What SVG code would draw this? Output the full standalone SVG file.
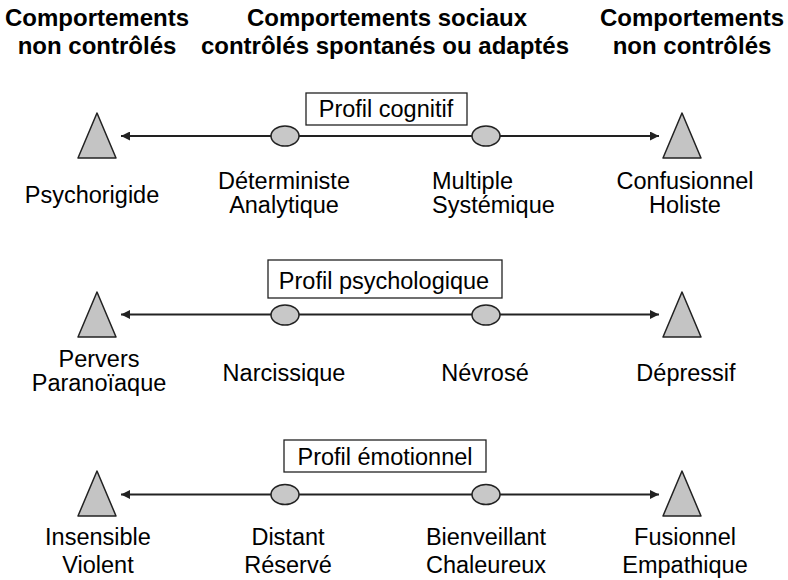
<svg xmlns="http://www.w3.org/2000/svg" width="788" height="580" viewBox="0 0 788 580">
<defs>
<style>
text{font-family:"Liberation Sans",Arial,sans-serif;fill:#000;text-anchor:middle}
.h{font-size:24px;font-weight:bold}
.t{font-size:23.5px}
.tri{fill:#c4c4c4;stroke:#222;stroke-width:1.5;stroke-linejoin:round}
.ell{fill:#c8c8c8;stroke:#222;stroke-width:1.5}
.ln{stroke:#222;stroke-width:2;fill:none;marker-start:url(#a);marker-end:url(#a)}
.box{fill:#fff;stroke:#222;stroke-width:1.3}
</style>
<marker id="a" viewBox="0 0 10 10" refX="10" refY="5" markerWidth="4.5" markerHeight="4.5" orient="auto-start-reverse" markerUnits="strokeWidth">
<path d="M0,0 L10,5 L0,10 z" fill="#222"/>
</marker>
</defs>
<rect width="788" height="580" fill="#fff"/>

<g id="headers">
<text class="h" x="97" y="26">Comportements</text>
<text class="h" x="97" y="54">non contrôlés</text>
<text class="h" x="387" y="26">Comportements sociaux</text>
<text class="h" x="385" y="54">contrôlés spontanés ou adaptés</text>
<text class="h" x="692" y="26">Comportements</text>
<text class="h" x="692" y="54">non contrôlés</text>
</g>

<g id="connectors">
<line class="ln" x1="121" y1="136" x2="659" y2="136"/>
<line class="ln" x1="121" y1="314.5" x2="659" y2="314.5"/>
<line class="ln" x1="121" y1="494.5" x2="659" y2="494.5"/>
</g>

<!-- Row 1 -->
<g id="box-cognitif"><rect class="box" x="306" y="93" width="161" height="32"/><text class="t" x="386" y="117">Profil cognitif</text></g>
<g id="psychorigide"><polygon class="tri" points="97,113 78,158 116,158"/><text class="t" x="92" y="203">Psychorigide</text></g>
<g id="deterministe"><ellipse class="ell" cx="285" cy="136" rx="14" ry="10"/><text class="t" x="284" y="189">Déterministe</text><text class="t" x="284" y="213">Analytique</text></g>
<g id="multiple"><ellipse class="ell" cx="486" cy="136" rx="14" ry="10"/><text class="t" x="432" y="189" style="text-anchor:start">Multiple</text><text class="t" x="432" y="213" style="text-anchor:start">Systémique</text></g>
<g id="confusionnel"><polygon class="tri" points="682,113 663,158 701,158"/><text class="t" x="685" y="189">Confusionnel</text><text class="t" x="685" y="213">Holiste</text></g>

<!-- Row 2 -->
<g id="box-psychologique"><rect class="box" x="268" y="260" width="234" height="38"/><text class="t" x="384" y="289">Profil psychologique</text></g>
<g id="pervers"><polygon class="tri" points="97,292 78,337 116,337"/><text class="t" x="99" y="367">Pervers</text><text class="t" x="99" y="391">Paranoïaque</text></g>
<g id="narcissique"><ellipse class="ell" cx="285" cy="315" rx="14" ry="10"/><text class="t" x="284" y="381">Narcissique</text></g>
<g id="nevrose"><ellipse class="ell" cx="486" cy="315" rx="14" ry="10"/><text class="t" x="485" y="381">Névrosé</text></g>
<g id="depressif"><polygon class="tri" points="682,292 663,337 701,337"/><text class="t" x="686" y="381">Dépressif</text></g>

<!-- Row 3 -->
<g id="box-emotionnel"><rect class="box" x="284" y="440" width="202" height="32"/><text class="t" x="385" y="465">Profil émotionnel</text></g>
<g id="insensible"><polygon class="tri" points="97,471 78,516 116,516"/><text class="t" x="98" y="545">Insensible</text><text class="t" x="98" y="573">Violent</text></g>
<g id="distant"><ellipse class="ell" cx="285" cy="494.5" rx="14" ry="10"/><text class="t" x="288" y="545">Distant</text><text class="t" x="288" y="573">Réservé</text></g>
<g id="bienveillant"><ellipse class="ell" cx="486" cy="494.5" rx="14" ry="10"/><text class="t" x="486" y="545">Bienveillant</text><text class="t" x="486" y="573">Chaleureux</text></g>
<g id="fusionnel"><polygon class="tri" points="682,471 663,516 701,516"/><text class="t" x="685" y="545">Fusionnel</text><text class="t" x="685" y="573">Empathique</text></g>
</svg>
